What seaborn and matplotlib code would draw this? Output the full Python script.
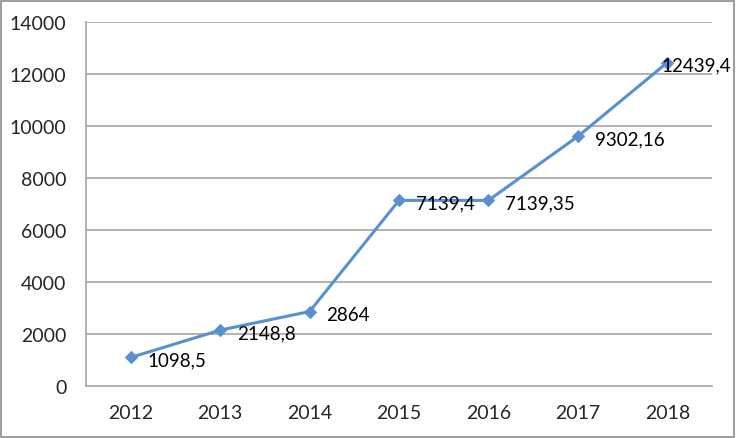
import pandas as pd
import matplotlib.pyplot as plt
import seaborn as sns
from matplotlib.patches import Rectangle

years = ['2012', '2013', '2014', '2015', '2016', '2017', '2018']
values = [1098.5, 2148.8, 2864, 7139.4, 7139.35, 9600, 12439.4]
labels = ['1098,5', '2148,8', '2864', '7139,4', '7139,35', '9302,16', '12439,4']

df = pd.DataFrame({'pos': range(len(years)), 'value': values})

sns.set_style('white')
plt.rcParams['font.family'] = ['Lato', 'DejaVu Sans']

fig = plt.figure(figsize=(7.36, 4.39), dpi=100)
ax = fig.add_axes([86 / 736, 1 - 387 / 439, 626 / 736, 364 / 439])

# grid lines first so the line sits above them
for v in range(2000, 14001, 2000):
    ax.axhline(v, color='#a6a6a6', lw=1.2, zorder=0)

sns.lineplot(data=df, x='pos', y='value', ax=ax, color='#5890d2', lw=2.2,
             marker='D', markersize=6.5, markeredgecolor='#5890d2')

# data labels, right of the points
for i, (v, t) in enumerate(zip(values, labels)):
    dx = -4 if i == len(values) - 1 else 12
    ax.annotate(t, (i, v), xytext=(dx, -2), textcoords='offset points',
                ha='left', va='center', fontsize=13.5, color='#000000')

ax.set_xlim(-0.5, len(years) - 0.5)
ax.set_ylim(0, 14000)
ax.set_yticks(range(0, 14001, 2000))
ax.set_yticklabels([str(v) for v in range(0, 14001, 2000)], fontsize=14)
ax.set_xticks(range(len(years)))
ax.set_xticklabels(years, fontsize=14)
ax.set_xticks([i - 0.5 for i in range(len(years) + 1)], minor=True)
ax.tick_params(axis='x', which='major', length=0, pad=13)
ax.tick_params(axis='x', which='minor', length=5, color='#a6a6a6', width=1.2, direction='out')
ax.tick_params(axis='y', length=5, color='#a6a6a6', width=1.2, direction='out', pad=9)
ax.set_xlabel('')
ax.set_ylabel('')

for side in ['top', 'right']:
    ax.spines[side].set_visible(False)
for side in ['left', 'bottom']:
    ax.spines[side].set_color('#a6a6a6')
    ax.spines[side].set_linewidth(1.2)

# chart border
fig.patches.append(Rectangle((0.002, 0.003), 0.995, 0.993, transform=fig.transFigure,
                             fill=False, edgecolor='#8c8c8c', lw=1.2))

fig.savefig('out.png', dpi=100)
